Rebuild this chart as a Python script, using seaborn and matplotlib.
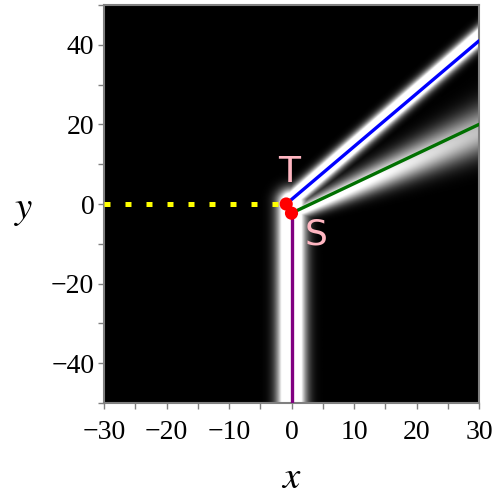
import numpy as np
import pandas as pd
import matplotlib
matplotlib.use("Agg")
import matplotlib.pyplot as plt
import seaborn as sns

# line endpoints (data units)
blue_x = [-0.85, 30]
blue_y = [0.0, 41]
green_x = [0.0, 30]
green_y = [-2.3, 20]
purple_x = [0.0, 0.0]
purple_y = [-2.3, -50]
yellow_x = [-30, -0.85]
yellow_y = [0.0, 0.0]
pts_x = [-0.85, 0.0]
pts_y = [0.0, -2.3]
pt_names = ["T", "S"]
label_x = [-0.3, 4.0]
label_y = [8.1, -7.6]

# approximate pixel scales used for the glow widths
px_x, px_y = 6.25, 3.98

def seg_dist(X, Y, x0, y0, x1, y1, signed=False):
    ax_, ay_ = x0 * px_x, y0 * px_y
    bx, by = x1 * px_x, y1 * px_y
    px_, py_ = X * px_x, Y * px_y
    dx, dy = bx - ax_, by - ay_
    t = np.clip(((px_ - ax_) * dx + (py_ - ay_) * dy) / (dx * dx + dy * dy), 0, 1)
    if signed:
        n = np.hypot(dx, dy)
        return ((px_ - ax_) * dy - (py_ - ay_) * dx) / n, t
    return np.hypot(px_ - ax_ - t * dx, py_ - ay_ - t * dy), t

xs = np.linspace(-30, 30, 500)
ys = np.linspace(-50, 50, 600)
X, Y = np.meshgrid(xs, ys)

d_v, _ = seg_dist(X, Y, 0.0, 0.3, 0.0, -70)
f_v = 1.8 * np.exp(-(d_v / 13) ** 2)
d_b, _ = seg_dist(X, Y, -0.85, 0.0, 40, 55.6)
f_b = 1.8 * np.exp(-(d_b / 8) ** 2)
# green glow: signed distance (positive below the line), spreading to the right
d_g, t_g = seg_dist(X, Y, 0.0, -2.3, 40, 27.4, signed=True)
off = 2 + 6 * t_g
w_g = 6 + 22 * t_g
f_g = (1.2 - 0.6 * t_g) * np.exp(-((d_g - off) / w_g) ** 2)
f_g = np.where(X * px_x > -5, f_g, 0)
field = np.clip(np.maximum(np.maximum(f_v, f_b), f_g), 0, 1)

sns.set_style("ticks")
plt.rcParams["font.family"] = ["Liberation Serif", "DejaVu Serif"]
plt.rcParams["mathtext.fontset"] = "stix"

fig = plt.figure(figsize=(5, 5), dpi=100)
ax = fig.add_axes([0.208, 0.194, 0.75, 0.796])
ax.imshow(field, extent=[-30, 30, -50, 50], origin="lower", aspect="auto",
          cmap="gray", vmin=0, vmax=1, interpolation="bilinear", zorder=0)

sns.lineplot(x=yellow_x, y=yellow_y, ax=ax, color="#ffff00", lw=3.6,
             dashes=False, linestyle=(0, (1.2, 3.0)), dash_capstyle="butt", zorder=3)
sns.lineplot(x=blue_x, y=blue_y, ax=ax, color="#0000ff", lw=2.4, zorder=3)
sns.lineplot(x=green_x, y=green_y, ax=ax, color="#007000", lw=2.4, zorder=3)
sns.lineplot(x=purple_x, y=purple_y, ax=ax, color="#800080", lw=2.4,
             orient="y", zorder=3)
sns.scatterplot(x=pts_x, y=pts_y, ax=ax, color="#ff0000", s=90,
                edgecolor="none", zorder=4)
for name, lx, ly in zip(pt_names, label_x, label_y):
    ax.text(lx, ly, name, color="#ffb6c1", fontsize=26, ha="center", va="center",
            family=["DejaVu Sans"], zorder=5)

ax.set_xlim(-30, 30)
ax.set_ylim(-50, 50)
ax.set_xticks([-30, -20, -10, 0, 10, 20, 30])
ax.set_xticklabels(["\u221230", "\u221220", "\u221210", "0", "10", "20", "30"])
ax.set_xticks(np.arange(-25, 30, 10), minor=True)
ax.set_yticks([-40, -20, 0, 20, 40])
ax.set_yticklabels(["\u221240", "\u221220", "0", "20", "40"])
ax.set_yticks(np.arange(-50, 51, 10), minor=True)
ax.tick_params(which="both", direction="out", length=4, width=1, color="#808080",
               labelsize=20, labelcolor="black", pad=3)
ax.tick_params(axis="x", pad=8)
for sp in ax.spines.values():
    sp.set_color("#808080")
    sp.set_linewidth(1.5)
ax.set_xlabel("$x$", fontsize=28, color="black")
ax.set_ylabel("$y$", fontsize=28, rotation=0, color="black", va="center", ha="center")
ax.xaxis.set_label_coords(0.5, -0.143)
ax.yaxis.set_label_coords(-0.213, 0.485)

fig.savefig("out.png", dpi=100)
